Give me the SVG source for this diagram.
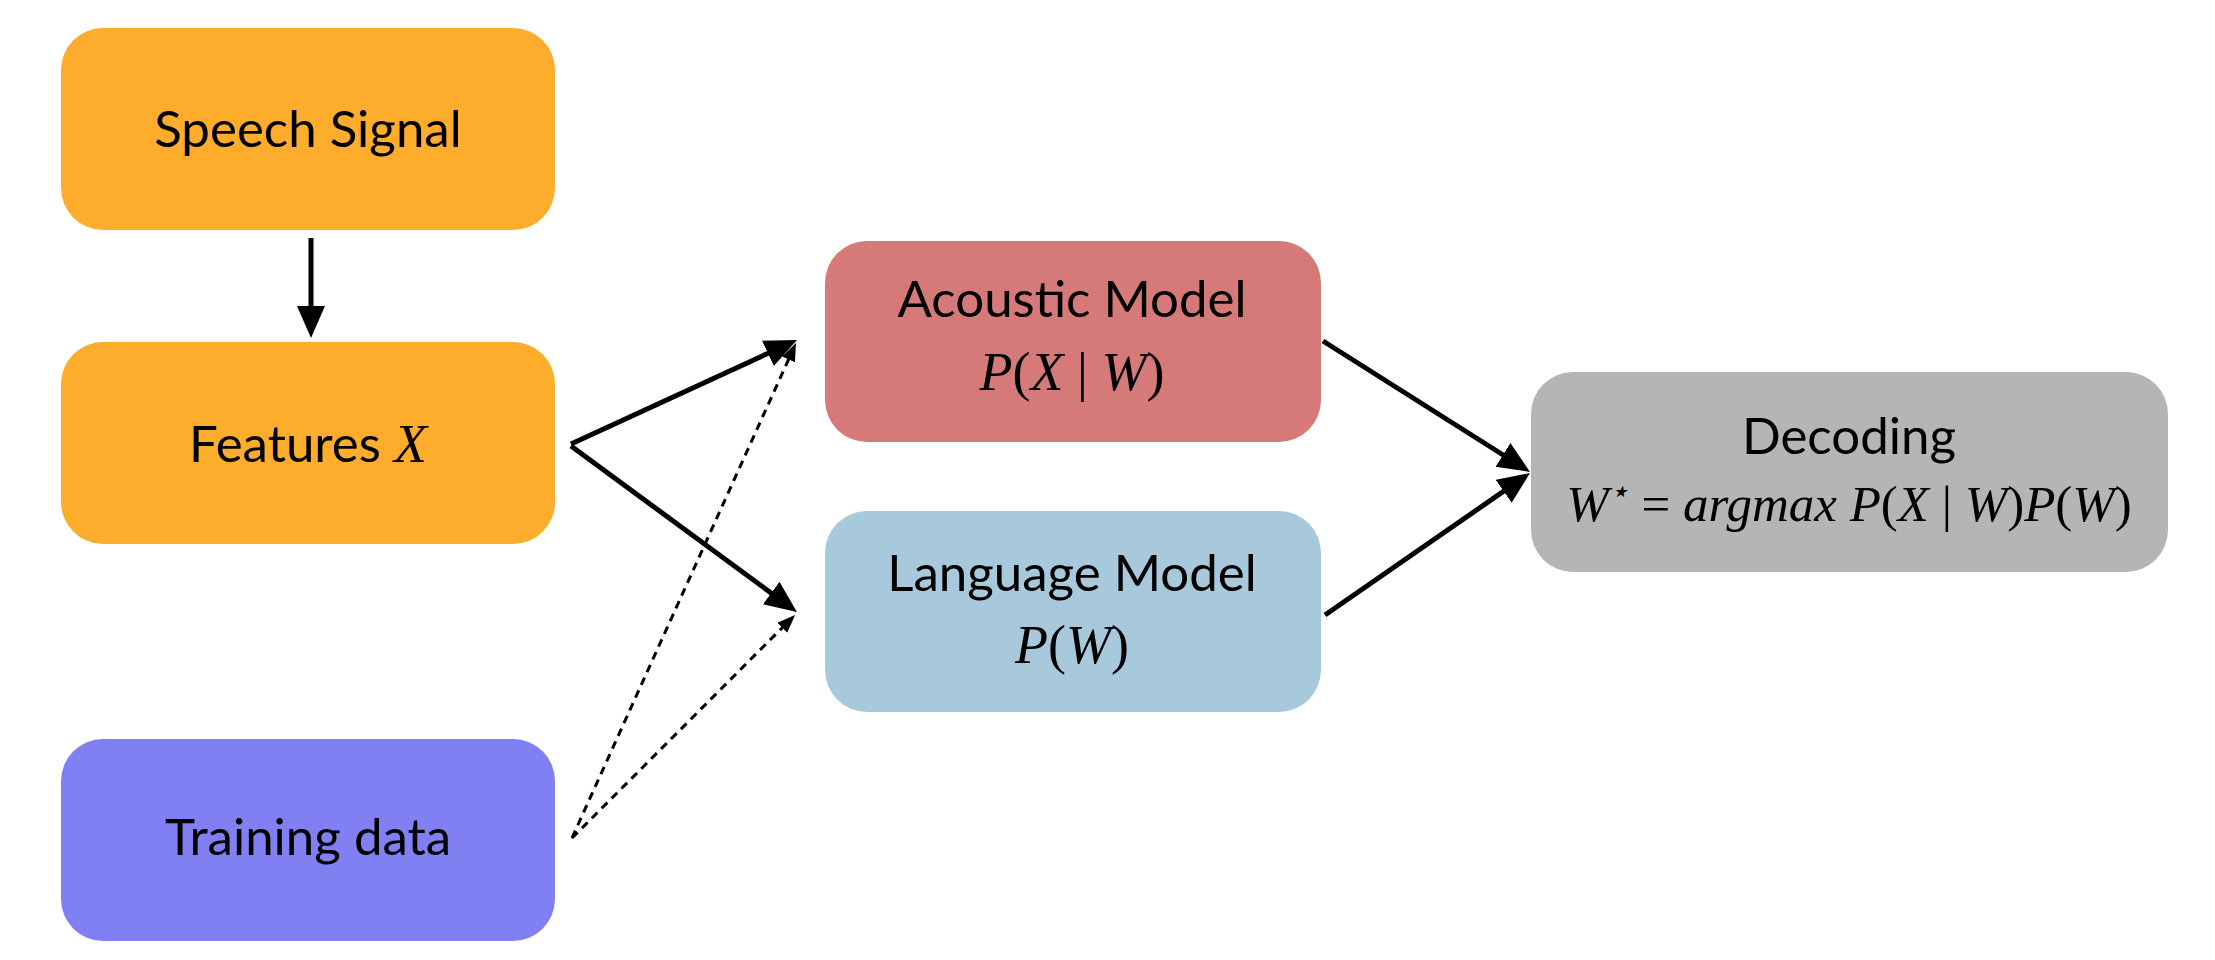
<svg xmlns="http://www.w3.org/2000/svg" width="2215" height="960" viewBox="0 0 2215 960">
<style>
.lbl{font-family:Lato,"Noto Sans","Liberation Sans",sans-serif;font-size:51px;fill:#000;text-anchor:middle}
.math{font-family:"Liberation Serif","Times New Roman",serif;font-style:italic;font-size:54px;fill:#000;text-anchor:middle}
.up{font-style:normal}
.conn{stroke:#000;stroke-width:5;fill:none}
.dot{stroke:#000;stroke-width:3;fill:none;stroke-dasharray:8 6}
</style>
<defs>
<marker id="ah" markerUnits="userSpaceOnUse" markerWidth="34" markerHeight="30" refX="19" refY="14" orient="auto">
<path d="M0,0 L32,14 L0,28 z" fill="#000"/>
</marker>
<marker id="ahs" markerUnits="userSpaceOnUse" markerWidth="20" markerHeight="16" refX="12" refY="7" orient="auto">
<path d="M0,0 L18,7 L0,14 z" fill="#000"/>
</marker>
</defs>
<rect width="2215" height="960" fill="#fff"/>
<g id="speech"><rect x="61" y="28" width="494" height="202" rx="42" fill="#FDAC2C"/><text class="lbl" x="308" y="147">Speech Signal</text></g>
<g id="features"><rect x="61" y="342" width="494" height="202" rx="42" fill="#FDAC2C"/><text class="lbl" x="308" y="462">Features <tspan class="math" style="font-size:54px">X</tspan></text></g>
<g id="training"><rect x="61" y="739" width="494" height="202" rx="42" fill="#8080F3"/><text class="lbl" x="308" y="855">Training data</text></g>
<g id="acoustic"><rect x="825" y="241" width="496" height="201" rx="42" fill="#D57A78"/><text class="lbl" x="1072" y="317">Acoustic Model</text><text class="math" x="1072" y="390">P<tspan class="up">(</tspan>X <tspan class="up">|</tspan> W<tspan class="up">)</tspan></text></g>
<g id="language"><rect x="825" y="511" width="496" height="201" rx="42" fill="#A8C8DB"/><text class="lbl" x="1072" y="591">Language Model</text><text class="math" x="1072" y="663">P<tspan class="up">(</tspan>W<tspan class="up">)</tspan></text></g>
<g id="decoding"><rect x="1531" y="372" width="637" height="200" rx="42" fill="#B5B5B5"/><text class="lbl" x="1849" y="454">Decoding</text><text class="math" style="font-size:51px" x="1849" y="521">W<tspan font-size="32" dy="-19">⋆</tspan><tspan dy="19" class="up"> = </tspan>argmax P<tspan class="up">(</tspan>X <tspan class="up">|</tspan> W<tspan class="up">)</tspan>P<tspan class="up">(</tspan>W<tspan class="up">)</tspan></text></g>
<g id="connectors">
<line class="conn" x1="311" y1="238" x2="311" y2="325" marker-end="url(#ah)"/>
<polyline class="conn" points="571,444 785.2,345.4" marker-end="url(#ah)"/>
<polyline class="conn" points="571,446 786.5,604.3" marker-end="url(#ah)"/>
<line class="conn" x1="1323" y1="341" x2="1519" y2="465" marker-end="url(#ah)"/>
<line class="conn" x1="1325" y1="615" x2="1519.3" y2="480.4" marker-end="url(#ah)"/>
<line class="dot" x1="572" y1="838" x2="793.5" y2="348.5" marker-end="url(#ahs)"/>
<line class="dot" x1="572" y1="838" x2="790.8" y2="619.2" marker-end="url(#ahs)"/>
</g>
</svg>
